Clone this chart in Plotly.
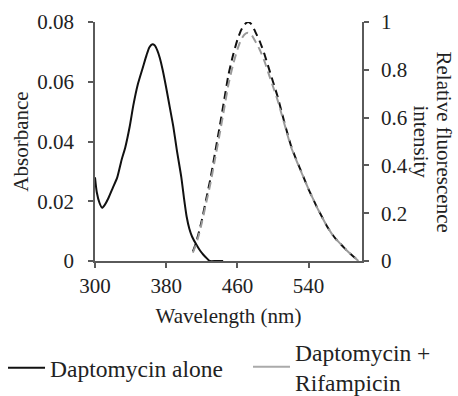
import plotly.graph_objects as go

# Absorbance (Daptomycin alone)
abs_wl = [300, 302, 305, 308, 311, 315, 320, 325, 330, 334, 339, 343, 348, 354, 358, 361, 364, 367, 370, 373, 376, 380, 384, 388, 392, 397, 400, 403, 406, 409, 414, 418, 422, 426, 429, 436, 444]
abs_val = [0.028, 0.023, 0.0195, 0.0178, 0.0188, 0.021, 0.0245, 0.028, 0.034, 0.038, 0.045, 0.052, 0.059, 0.065, 0.069, 0.0715, 0.0725, 0.0722, 0.0705, 0.0678, 0.064, 0.058, 0.0515, 0.045, 0.037, 0.028, 0.021, 0.0148, 0.0108, 0.0082, 0.0054, 0.0035, 0.002, 0.0008, 0.0, 0.0, 0.0]

# Relative fluorescence intensity
fl_wl = [410, 413, 416, 420, 425, 430, 435, 440, 445, 450, 455, 460, 464, 468, 472, 476, 480, 485, 490, 495, 500, 505, 510, 515, 520, 525, 530, 535, 540, 545, 550, 555, 560, 565, 570, 575, 580, 585, 590, 596]
fl_dap = [0.04, 0.07, 0.11, 0.17, 0.26, 0.35, 0.455, 0.56, 0.67, 0.78, 0.86, 0.925, 0.965, 0.99, 1.0, 0.99, 0.96, 0.92, 0.87, 0.81, 0.75, 0.69, 0.62, 0.55, 0.485, 0.435, 0.39, 0.345, 0.30, 0.26, 0.22, 0.185, 0.15, 0.12, 0.095, 0.075, 0.055, 0.037, 0.02, 0.0]
fl_dap_rif = [0.035, 0.065, 0.10, 0.16, 0.245, 0.33, 0.43, 0.53, 0.635, 0.74, 0.82, 0.885, 0.925, 0.948, 0.955, 0.945, 0.92, 0.885, 0.84, 0.785, 0.73, 0.675, 0.61, 0.545, 0.48, 0.432, 0.388, 0.344, 0.30, 0.26, 0.22, 0.185, 0.15, 0.12, 0.095, 0.075, 0.055, 0.037, 0.02, 0.0]

x_ticks = [300, 380, 460, 540]
y1_ticks = [0, 0.02, 0.04, 0.06, 0.08]
y1_labels = ["0", "0.02", "0.04", "0.06", "0.08"]
y2_ticks = [0, 0.2, 0.4, 0.6, 0.8, 1]
y2_labels = ["0", "0.2", "0.4", "0.6", "0.8", "1"]

FONT = "Times"
AX = "#5a5a5a"
TXT = "#222222"

fig = go.Figure()
fig.add_trace(go.Scatter(x=abs_wl, y=abs_val, mode="lines", name="Daptomycin alone",
                         line=dict(color="#111111", width=2, shape="spline", smoothing=0.6), legend="legend"))
fig.add_trace(go.Scatter(x=fl_wl, y=fl_dap, mode="lines", showlegend=False, yaxis="y2",
                         line=dict(color="#111111", width=2, dash="8px,5px", shape="spline", smoothing=0.6)))
fig.add_trace(go.Scatter(x=fl_wl, y=fl_dap_rif, mode="lines", showlegend=False, yaxis="y2",
                         line=dict(color="#9a9a9a", width=2, dash="8px,5px", shape="spline", smoothing=0.6)))
fig.add_trace(go.Scatter(x=[None], y=[None], mode="lines", name="Daptomycin +<br>Rifampicin",
                         line=dict(color="#aaaaaa", width=2), legend="legend2"))

axis_common = dict(showline=True, linecolor=AX, linewidth=1.5, ticks="outside", tickcolor=AX,
                   ticklen=5, tickwidth=1.5, showgrid=False, zeroline=False, automargin=False,
                   tickfont=dict(family=FONT, size=21, color=TXT))

fig.update_layout(
    width=458, height=396,
    margin=dict(l=95, r=96, t=22, b=135, autoexpand=False),
    paper_bgcolor="white", plot_bgcolor="white",
    font=dict(family=FONT, size=21, color=TXT),
    xaxis=dict(range=[300, 600], tickvals=x_ticks, ticktext=[str(v) for v in x_ticks],
               ticklabelstandoff=0,
               title=dict(text="Wavelength (nm)", font=dict(family=FONT, size=21, color=TXT), standoff=11),
               **axis_common),
    yaxis=dict(range=[0, 0.08], tickvals=y1_ticks, ticktext=y1_labels, ticklabelstandoff=10,
               title=dict(text="Absorbance", font=dict(family=FONT, size=21, color=TXT), standoff=3),
               **axis_common),
    yaxis2=dict(range=[0, 1], tickvals=y2_ticks, ticktext=y2_labels, overlaying="y", side="right",
                ticklabelstandoff=8, **axis_common),
    legend=dict(xref="container", yref="container", x=0.0066, y=0.0707, xanchor="left", yanchor="middle",
                orientation="h", itemwidth=37,
                font=dict(family=FONT, size=23.5, color=TXT), bgcolor="rgba(0,0,0,0)"),
    legend2=dict(xref="container", yref="container", x=0.5415, y=0.073, xanchor="left", yanchor="middle",
                 orientation="h", itemwidth=37,
                 font=dict(family=FONT, size=23.5, color=TXT), bgcolor="rgba(0,0,0,0)"),
    annotations=[
        dict(text="Relative fluorescence", xref="paper", yref="paper", x=1.0, y=0.5,
             xanchor="center", yanchor="middle",
             xshift=82, showarrow=False, textangle=90, font=dict(family=FONT, size=21, color=TXT)),
        dict(text="intensity", xref="paper", yref="paper", x=1.0, y=0.5,
             xanchor="center", yanchor="middle",
             xshift=59, showarrow=False, textangle=90, font=dict(family=FONT, size=21, color=TXT)),
    ],
)

fig.write_html("out.html")
